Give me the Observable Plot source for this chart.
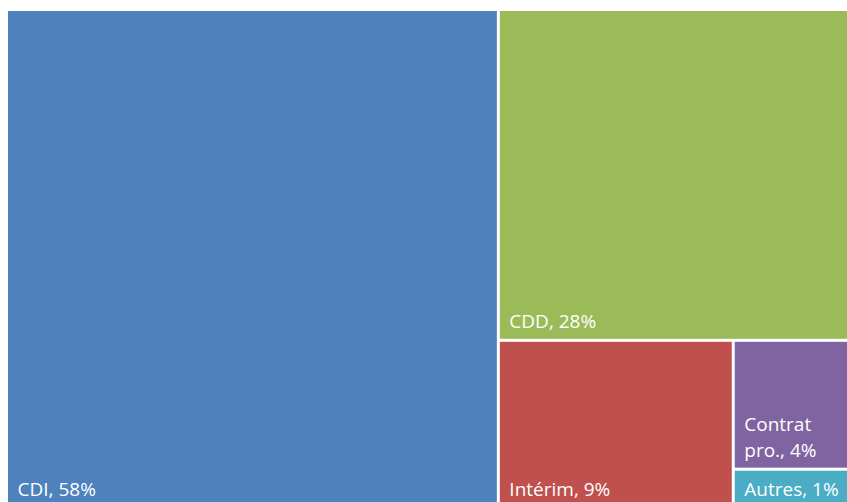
<!DOCTYPE html>
<html>
<head>
<meta charset="utf-8">
<script src="https://cdn.jsdelivr.net/npm/d3@7"></script>
<script src="https://cdn.jsdelivr.net/npm/@observablehq/plot@0.6"></script>
<style>
  html, body { margin: 0; padding: 0; background: #fff; overflow: hidden; }
  #chart svg { display: block; }
</style>
</head>
<body>
<div id="chart"></div>
<script>
// ---- data (share of contracts, %) ----
const categories = ["CDI", "CDD", "Intérim", "Contrat pro.", "Autres"];
const shares     = [58.0, 27.9, 9.3, 3.7, 1.1];
const colors     = ["#4F81BD", "#9BBB59", "#C0504D", "#8064A2", "#4BACC6"];

// ---- layout ----
const W = 847, H = 502;
const areaW = 845, areaH = 495;          // treemap area (partly cropped by the frame)
const fontSize = 19, fontFamily = "'Open Sans', sans-serif";
const inset = 9;

const root = d3.hierarchy({children: categories.map((name, i) => ({name, value: shares[i], color: colors[i]}))})
  .sum(d => d.value || 0);
d3.treemap().tile(d3.treemapBinary).size([areaW, areaH]).paddingInner(3)(root);

const ctx = document.createElement("canvas").getContext("2d");
ctx.font = `${fontSize}px ${fontFamily}`;
function wrap(text, maxW) {
  const words = text.split(" ");
  const lines = [];
  let cur = "";
  for (const w of words) {
    const test = cur ? cur + " " + w : w;
    if (cur && ctx.measureText(test).width > maxW) { lines.push(cur); cur = w; }
    else cur = test;
  }
  if (cur) lines.push(cur);
  return lines.join("\n");
}

const cells = root.leaves().map(n => ({
  name: n.data.name,
  color: n.data.color,
  x0: n.x0, x1: n.x1, y0: n.y0, y1: n.y1,
  label: wrap(`${n.data.name}, ${Math.round(n.data.value)}%`, (n.x1 - n.x0) - inset)
}));

const chart = Plot.plot({
  width: W,
  height: H,
  margin: 0,
  x: {domain: [0, areaW], range: [8, 8 + areaW], axis: null},
  y: {domain: [0, areaH], range: [11, 11 + areaH], axis: null},
  color: {type: "identity"},
  style: {background: "#fff", fontFamily},
  marks: [
    Plot.rect(cells, {x1: "x0", x2: "x1", y1: "y0", y2: "y1", fill: "color"}),
    Plot.text(cells, {
      x: "x0", y: "y1", text: "label",
      dx: inset, dy: -11,
      textAnchor: "start", lineAnchor: "bottom",
      lineHeight: 1.4,
      fill: "#fff", fontSize, fontFamily
    })
  ]
});
document.getElementById("chart").appendChild(chart);
</script>
</body>
</html>
